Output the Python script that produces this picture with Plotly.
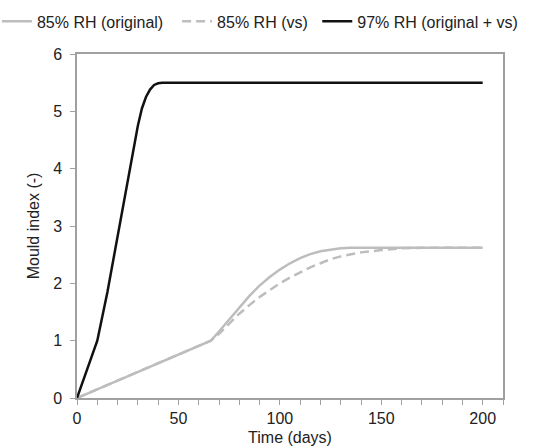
import plotly.graph_objects as go

# Data
days_97 = [0, 10, 15, 20, 25, 30, 32, 34, 36, 38, 40, 42, 45, 200]
mould_97 = [0, 1.0, 1.85, 2.8, 3.8, 4.75, 5.05, 5.25, 5.38, 5.46, 5.49, 5.5, 5.5, 5.5]

days_85_orig = [0, 66, 70, 75, 80, 85, 90, 95, 100, 105, 110, 115, 120, 125, 130, 135, 200]
mould_85_orig = [0, 1.0, 1.16, 1.37, 1.58, 1.78, 1.96, 2.11, 2.24, 2.35, 2.44, 2.51, 2.56, 2.59, 2.61, 2.62, 2.62]

days_85_vs = [0, 66, 70, 75, 80, 85, 90, 95, 100, 105, 110, 115, 120, 125, 130, 135, 140, 150, 160, 170, 200]
mould_85_vs = [0, 1.0, 1.12, 1.3, 1.47, 1.62, 1.76, 1.88, 2.0, 2.1, 2.19, 2.28, 2.35, 2.42, 2.47, 2.51, 2.54, 2.58, 2.61, 2.62, 2.62]

names = ["85% RH (original)", "85% RH (vs)", "97% RH (original + vs)"]

gray = "#bdbdbd"
fig = go.Figure()
fig.add_trace(go.Scatter(x=days_85_orig, y=mould_85_orig, mode="lines", name=names[0],
                         line=dict(color=gray, width=2.5), legend="legend"))
fig.add_trace(go.Scatter(x=days_85_vs, y=mould_85_vs, mode="lines", name=names[1],
                         line=dict(color=gray, width=2.5, dash="9px,5px"), legend="legend2"))
fig.add_trace(go.Scatter(x=days_97, y=mould_97, mode="lines", name=names[2],
                         line=dict(color="#111111", width=2.5), legend="legend3"))

axis_color = "#a0a0a0"
font = dict(family="Liberation Sans, Arial, sans-serif", size=16, color="#222222")
leg_common = dict(orientation="h", y=1.144, xanchor="left", yanchor="top",
                  font=dict(size=16, color="#222222"), itemwidth=30,
                  bgcolor="rgba(0,0,0,0)")
fig.update_layout(
    width=534, height=446,
    margin=dict(l=77, r=31, t=54, b=48, autoexpand=False),
    paper_bgcolor="white", plot_bgcolor="white",
    font=font,
    showlegend=True,
    legend=dict(x=-0.188, **leg_common),
    legend2=dict(x=0.235, **leg_common),
    legend3=dict(x=0.564, **leg_common),
    xaxis=dict(range=[0, 210], tickvals=[0, 50, 100, 150, 200], showgrid=False, zeroline=False,
               showline=True, linecolor=axis_color, linewidth=1.5, mirror=True,
               ticks="outside", ticklen=5, tickcolor=axis_color, tickwidth=1,
               ticklabelstandoff=0,
               minor=dict(dtick=10, tick0=0, ticks="outside", ticklen=5, tickcolor=axis_color, showgrid=False),
               title=dict(text="Time (days)", standoff=14, font=dict(size=16))),
    yaxis=dict(range=[0, 6], dtick=1, showgrid=False, zeroline=False,
               showline=True, linecolor=axis_color, linewidth=1.5, mirror=True,
               ticks="outside", ticklen=5, tickcolor=axis_color, tickwidth=1,
               ticklabelstandoff=5,
               title=dict(text="Mould index (-)", standoff=10, font=dict(size=16))),
)

fig.write_html("out.html")
